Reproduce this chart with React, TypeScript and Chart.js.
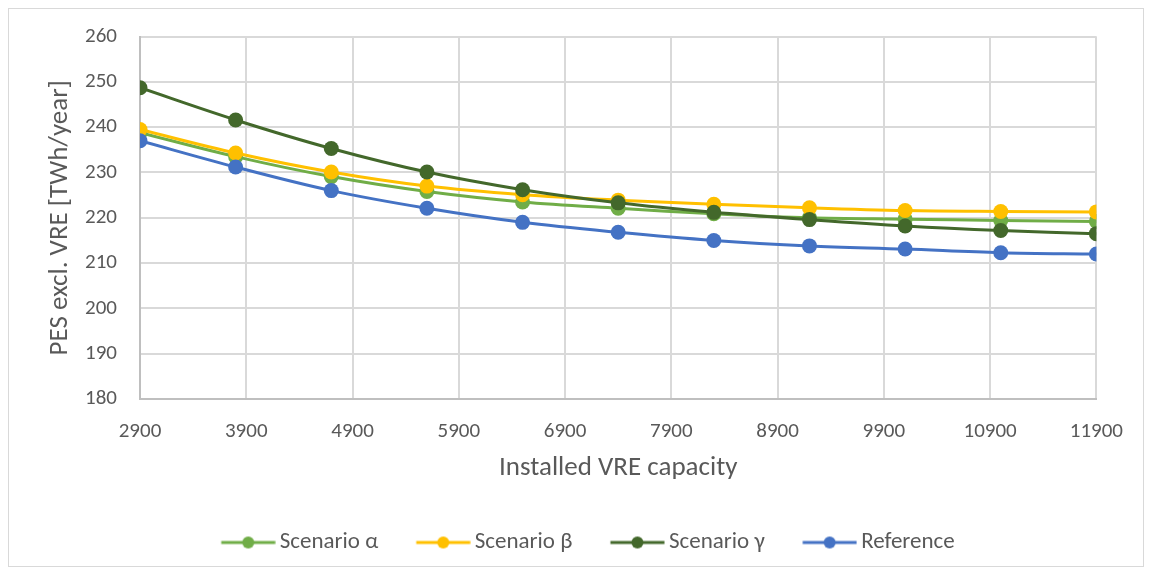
import React, { useEffect, useRef } from "react";
import { Chart, registerables } from "chart.js";

Chart.register(...registerables);

const capacities = [2900, 3800, 4700, 5600, 6500, 7400, 8300, 9200, 10100, 11000, 11900];
const scenarioAlpha = [238.8, 233.5, 229.1, 225.8, 223.5, 222.1, 220.9, 220.0, 219.7, 219.4, 219.2];
const scenarioBeta = [239.5, 234.3, 230.1, 227.0, 225.1, 223.9, 223.0, 222.2, 221.6, 221.4, 221.3];
const scenarioGamma = [248.7, 241.6, 235.3, 230.1, 226.2, 223.3, 221.2, 219.6, 218.2, 217.2, 216.5];
const reference = [237.0, 231.2, 226.0, 222.1, 219.0, 216.8, 215.0, 213.8, 213.1, 212.3, 212.0];

const seriesNames = ["Scenario α", "Scenario β", "Scenario γ", "Reference"];
const seriesColors = ["#70AD47", "#FFC000", "#43682B", "#4472C4"];
const seriesValues = [scenarioAlpha, scenarioBeta, scenarioGamma, reference];

const yTickMin = 180;
const yTickMax = 260;
const xTickMin = 2900;
const xTickMax = 11900;

const FONT = "Calibri, Carlito, Lato, 'Open Sans', sans-serif";
const TEXT = "#595959";

// legend marker: 54px line with a dot, with a left margin inside the legend box
const LEG_MARGIN = 24;
const LEG_BOX = LEG_MARGIN + 47;
const LEG_CANVAS = 86;
function makeLegendIcon(color: string): HTMLCanvasElement {
  const c = document.createElement("canvas");
  c.width = LEG_CANVAS;
  c.height = 16;
  const ctx = c.getContext("2d")!;
  const off = LEG_CANVAS / 2 - LEG_BOX / 2;
  const x0 = off + LEG_MARGIN;
  const x1 = x0 + 54;
  ctx.strokeStyle = color;
  ctx.lineWidth = 3;
  ctx.beginPath();
  ctx.moveTo(x0, 8);
  ctx.lineTo(x1, 8);
  ctx.stroke();
  ctx.fillStyle = color;
  ctx.beginPath();
  ctx.arc((x0 + x1) / 2, 8, 6, 0, Math.PI * 2);
  ctx.fill();
  return c;
}

export default function App() {
  const ref = useRef<HTMLCanvasElement | null>(null);
  useEffect(() => {
    if (!ref.current) return;
    const icons = seriesColors.map(makeLegendIcon);
    const datasets = seriesNames.map((name, i) => ({
      label: name,
      data: capacities.map((x, j) => ({ x, y: seriesValues[i][j] })),
      borderColor: seriesColors[i],
      backgroundColor: seriesColors[i],
      borderWidth: 3,
      pointRadius: 7.5,
      pointBorderWidth: 0,
      pointBackgroundColor: seriesColors[i],
      tension: 0.35,
      order: 3 - i,
    }));
    const chart = new Chart(ref.current, {
      type: "line",
      data: { datasets },
      options: {
        animation: false,
        responsive: true,
        maintainAspectRatio: false,
        layout: { padding: { top: 10, right: 0, bottom: 2, left: 0 } },
        plugins: {
          tooltip: { enabled: false },
          legend: {
            position: "bottom",
            labels: {
              usePointStyle: true,
              pointStyleWidth: LEG_BOX,
              padding: 14,
              color: TEXT,
              font: { family: FONT, size: 23 },
              sort: (a: any, b: any) => a.datasetIndex - b.datasetIndex,
              generateLabels: (c: any) => {
                const items = Chart.defaults.plugins.legend.labels.generateLabels(c);
                return items.map((it: any) => ({ ...it, pointStyle: icons[it.datasetIndex], fontColor: TEXT }));
              },
            },
          },
        },
        scales: {
          x: {
            type: "linear",
            min: xTickMin,
            max: xTickMax,
            ticks: {
              stepSize: 1000,
              color: TEXT,
              font: { family: FONT, size: 21 },
              padding: 20,
              maxRotation: 0,
              callback: (v: any) => String(v),
            },
            grid: { color: "#D9D9D9", lineWidth: 2, drawTicks: false },
            border: { color: "#BFBFBF", width: 2 },
            title: {
              display: true,
              text: "Installed VRE capacity",
              color: TEXT,
              font: { family: FONT, size: 27 },
              padding: { top: 8, bottom: 33 },
            },
            afterFit: (s: any) => {
              s.height = 118;
            },
          },
          y: {
            min: yTickMin,
            max: yTickMax,
            ticks: {
              stepSize: 10,
              color: TEXT,
              font: { family: FONT, size: 21 },
              padding: 15,
            },
            grid: { color: "#D9D9D9", lineWidth: 2, drawTicks: true, tickLength: 8, tickColor: "rgba(0,0,0,0)" },
            border: { color: "#BFBFBF", width: 2 },
            title: {
              display: true,
              text: "PES excl. VRE [TWh/year]",
              color: TEXT,
              font: { family: FONT, size: 27 },
              padding: { top: 35, bottom: 0 },
            },
            afterFit: (s: any) => {
              s.width = 131;
            },
          },
        },
      },
    } as any);
    return () => chart.destroy();
  }, []);
  return (
    <div
      style={{
        width: 1134,
        height: 557,
        border: "1px solid #D9D9D9",
        position: "relative",
        background: "#fff",
      }}
    >
      <canvas ref={ref} />
    </div>
  );
}
